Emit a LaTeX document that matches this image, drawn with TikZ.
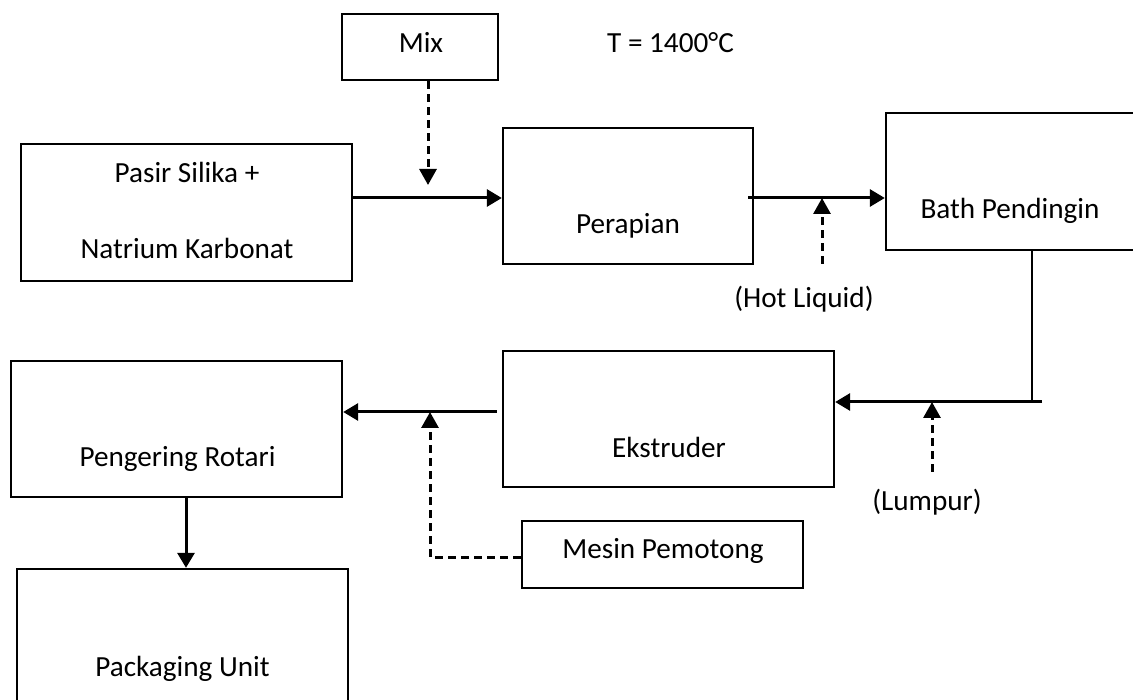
\documentclass[tikz,border=0pt]{standalone}
\usepackage{fontspec}
\setmainfont{Carlito}
\usetikzlibrary{arrows.meta,calc}
\begin{document}
\begin{tikzpicture}[x=1pt,y=-1pt,
  box/.style={draw,line width=2.3pt,inner sep=0pt},
  lbl/.style={anchor=base,inner sep=0pt,font=\fontsize{29.2pt}{35pt}\selectfont},
  line/.style={line width=2.6pt},
  arr/.style={line width=3pt,-{Triangle[length=15pt,width=17pt]}},
  darr/.style={line width=3pt,dash pattern=on 8pt off 5pt,-{Triangle[length=16pt,width=17pt]}}]
\useasboundingbox[fill=white] (0,0) rectangle (1133,700);
% boxes
\node[box,minimum width=156pt,minimum height=66pt] (mix) at (420,47) {};
\node[box,minimum width=331pt,minimum height=137pt] (pasir) at (186.5,212.5) {};
\node[box,minimum width=250pt,minimum height=136pt] (perapian) at (628,196) {};
\node[box,minimum width=249pt,minimum height=137pt] (bath) at (1010.5,181.5) {};
\node[box,minimum width=331pt,minimum height=136pt] (ekstruder) at (668.5,419) {};
\node[box,minimum width=331pt,minimum height=136pt] (pengering) at (176.5,429) {};
\node[box,minimum width=331pt,minimum height=137pt] (packaging) at (182.5,637.5) {};
\node[box,minimum width=281pt,minimum height=67pt] (mesin) at (662.5,554.5) {};
% texts
\node[lbl] (tmix) at (421,53) {Mix};
\node[lbl,anchor=base west] (ttemp) at (607,53) {T = 1400°C};
\node[lbl] (tpasir) at (187,183) {Pasir Silika +};
\node[lbl] (tnatrium) at (187,259) {Natrium Karbonat};
\node[lbl] (tperapian) at (628,234) {Perapian};
\node[lbl] (tbath) at (1010,219) {Bath Pendingin};
\node[lbl] (thot) at (804,308) {(Hot Liquid)};
\node[lbl] (tekstruder) at (669,458) {Ekstruder};
\node[lbl] (tlumpur) at (927,510) {(Lumpur)};
\node[lbl] (tpengering) at (177.5,467) {Pengering Rotari};
\node[lbl] (tpackaging) at (182.5,676) {Packaging Unit};
\node[lbl] (tmesin) at (663,558) {Mesin Pemotong};
% junction coordinates
\coordinate (j1) at (428,198);
\coordinate (j2) at (822,198);
\coordinate (hl) at (822,264);
\coordinate (c1) at (1032,402);
\coordinate (j3) at (932,402);
\coordinate (lm) at (932,472);
\coordinate (j4) at (430,412);
\coordinate (m1) at (430,557);
\coordinate (pv) at (186,0);
% connectors
\draw[arr] (pasir.east |- j1) -- (perapian.west |- j1);
\draw[darr] (mix.south -| j1) -- ([yshift=13pt]j1);
\draw[arr] ([xshift=-6pt]perapian.east |- j2) -- (bath.west |- j2);
\draw[darr] (hl) -- (j2);
\draw[line] (bath.south -| c1) -- (c1);
\draw[arr] ([xshift=10pt]c1) -- (ekstruder.east |- c1);
\draw[darr] (lm) -- (j3);
\draw[arr] ([xshift=-5pt]ekstruder.west |- j4) -- (pengering.east |- j4);
\draw[darr] (mesin.west |- m1) -- (m1) -- (j4);
\draw[arr] (pengering.south -| pv) -- (packaging.north -| pv);
\end{tikzpicture}
\end{document}
